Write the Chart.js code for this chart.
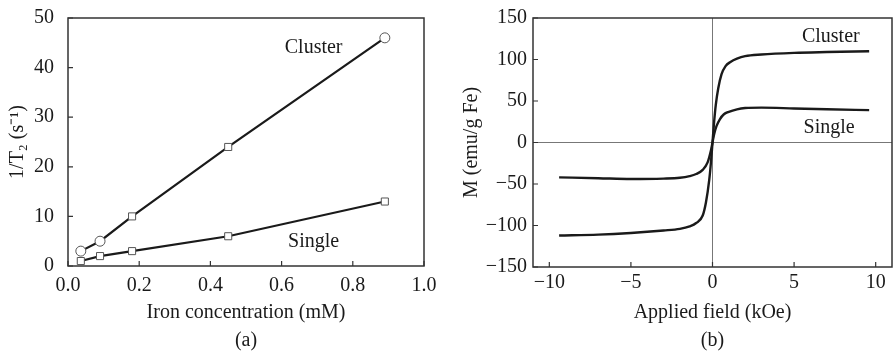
<!DOCTYPE html>
<html lang="en">
<head>
  <meta charset="UTF-8">
  <title>T2 relaxivity and magnetization</title>
  <script src="https://cdn.jsdelivr.net/npm/chart.js"></script>
  <style>
    body { margin: 0; background: #fff; }
    .panel { position: absolute; top: 0; }
    #left { left: 0; }
    #right { left: 446px; }
  </style>
</head>
<body>
  <canvas id="left" class="panel" width="446" height="358"></canvas>
  <canvas id="right" class="panel" width="447" height="358"></canvas>

  <script>
    // panel (a): relaxation rate vs iron concentration
    const concX = [0.036, 0.09, 0.18, 0.45, 0.89];
    const clusterRate = [3, 5, 10, 24, 46];
    const clusterStyle = ['circle', 'circle', 'rect', 'rect', 'circle'];
    const singleRate = [1, 2, 3, 6, 13];
    const concTicks = [0, 0.2, 0.4, 0.6, 0.8, 1.0];
    const rateTicks = [0, 10, 20, 30, 40, 50];

    // panel (b): magnetization curves
    const clusterField = [-9.4, -7, -5, -3, -2, -1.4, -1, -0.6, -0.4, -0.2, -0.1, 0, 0.1, 0.2, 0.35, 0.55, 0.8, 1.1, 1.5, 2, 3, 5, 7, 9.6];
    const clusterM = [-112, -111, -109, -106, -104, -101, -97, -88, -72, -45, -25, 0, 25, 45, 65, 82, 92, 97, 101, 104, 106, 108, 109, 110];
    const singleField = [-9.4, -7, -5, -3, -2, -1.4, -1, -0.6, -0.3, -0.1, 0, 0.1, 0.25, 0.45, 0.7, 1, 1.5, 2, 3, 5, 7, 9.6];
    const singleM = [-42, -43, -44, -43.5, -42.5, -40.5, -38, -33, -24, -10, 0, 10, 20, 28, 34, 37, 40, 41.5, 42, 41, 40, 39];
    const fieldTicks = [-10, -5, 0, 5, 10];
    const mTicks = [-150, -100, -50, 0, 50, 100, 150];

    const FONT = 'Liberation Serif';
    const INK = '#1a1a1a';

    const pts = (xs, ys) => xs.map((x, i) => ({ x: x, y: ys[i] }));
    const minus = v => String(v).replace('-', '\u2212');

    // box around the plot + ticks pointing inward, plus text labels at data coords
    const framePlugin = {
      id: 'frame',
      afterDraw(chart, args, opts) {
        const { ctx, chartArea: a, scales } = chart;
        ctx.save();
        ctx.strokeStyle = '#333';
        ctx.lineWidth = 1.5;
        ctx.strokeRect(a.left, a.top, a.right - a.left, a.bottom - a.top);
        ctx.lineWidth = 1.2;
        ctx.beginPath();
        scales.x.ticks.forEach(t => {
          const px = scales.x.getPixelForValue(t.value);
          ctx.moveTo(px, a.bottom);
          ctx.lineTo(px, a.bottom - 5);
        });
        scales.y.ticks.forEach(t => {
          const py = scales.y.getPixelForValue(t.value);
          ctx.moveTo(a.left, py);
          ctx.lineTo(a.left + 5, py);
        });
        ctx.stroke();
        ctx.fillStyle = INK;
        ctx.font = '20px "' + FONT + '"';
        ctx.textAlign = 'center';
        ctx.textBaseline = 'middle';
        (opts.labels || []).forEach(l => {
          ctx.fillText(l.text, scales.x.getPixelForValue(l.x), scales.y.getPixelForValue(l.y));
        });
        ctx.restore();
      }
    };

    function xTitle(text) {
      return { display: true, text: text, color: INK, font: { family: FONT, size: 20, lineHeight: 1.4 }, padding: { top: 3, bottom: 3 } };
    }

    function yTitle(text, pad) {
      return { display: true, text: text, color: INK, font: { family: FONT, size: 20 }, padding: { top: pad, bottom: 0 } };
    }

    function tickFont() {
      return { family: FONT, size: 20 };
    }

    new Chart(document.getElementById('left'), {
      type: 'line',
      data: {
        datasets: [
          {
            label: 'Cluster', data: pts(concX, clusterRate),
            borderColor: INK, borderWidth: 2.2, tension: 0,
            pointStyle: clusterStyle, pointRadius: 5,
            pointBackgroundColor: '#fff', pointBorderColor: '#555', pointBorderWidth: 1
          },
          {
            label: 'Single', data: pts(concX, singleRate),
            borderColor: INK, borderWidth: 2.2, tension: 0,
            pointStyle: 'rect', pointRadius: 5,
            pointBackgroundColor: '#fff', pointBorderColor: '#555', pointBorderWidth: 1
          }
        ]
      },
      options: {
        responsive: false,
        animation: false,
        layout: { padding: { top: 15, right: 22, left: 0, bottom: 0 } },
        plugins: {
          legend: { display: false },
          tooltip: { enabled: false },
          frame: { labels: [{ text: 'Cluster', x: 0.69, y: 44 }, { text: 'Single', x: 0.69, y: 4.8 }] }
        },
        scales: {
          x: {
            type: 'linear', min: 0, max: 1,
            afterBuildTicks: s => { s.ticks = concTicks.map(v => ({ value: v })); },
            afterFit: s => { s.height = 92; },
            grid: { display: false },
            border: { display: false },
            ticks: { color: INK, font: tickFont(), padding: 0, maxRotation: 0, callback: v => v.toFixed(1) },
            title: xTitle(['Iron concentration (mM)', '(a)'])
          },
          y: {
            min: 0, max: 50,
            afterBuildTicks: s => { s.ticks = rateTicks.map(v => ({ value: v })); },
            afterFit: s => { s.width = 68; },
            grid: { display: false },
            border: { display: false },
            ticks: { color: INK, font: tickFont(), padding: 6 },
            title: yTitle('1/T\u2082 (s\u207B\u00B9)', 6)
          }
        }
      },
      plugins: [framePlugin]
    });

    new Chart(document.getElementById('right'), {
      type: 'line',
      data: {
        datasets: [
          {
            label: 'Cluster', data: pts(clusterField, clusterM),
            borderColor: INK, borderWidth: 2.4, pointRadius: 0,
            cubicInterpolationMode: 'monotone'
          },
          {
            label: 'Single', data: pts(singleField, singleM),
            borderColor: INK, borderWidth: 2.4, pointRadius: 0,
            cubicInterpolationMode: 'monotone'
          }
        ]
      },
      options: {
        responsive: false,
        animation: false,
        layout: { padding: { top: 15, right: 1, left: 0, bottom: 0 } },
        plugins: {
          legend: { display: false },
          tooltip: { enabled: false },
          frame: { labels: [{ text: 'Cluster', x: 7.25, y: 128 }, { text: 'Single', x: 7.15, y: 18 }] }
        },
        scales: {
          x: {
            type: 'linear', min: -11, max: 11,
            afterBuildTicks: s => { s.ticks = fieldTicks.map(v => ({ value: v })); },
            afterFit: s => { s.height = 91; },
            grid: { drawTicks: false, color: c => c.tick && c.tick.value === 0 ? '#777' : 'rgba(0,0,0,0)' },
            border: { display: false },
            ticks: { color: INK, font: tickFont(), padding: 4, maxRotation: 0, callback: v => minus(v) },
            title: xTitle(['Applied field (kOe)', '(b)'])
          },
          y: {
            min: -150, max: 150,
            afterBuildTicks: s => { s.ticks = mTicks.map(v => ({ value: v })); },
            afterFit: s => { s.width = 87; },
            grid: { drawTicks: false, color: c => c.tick && c.tick.value === 0 ? '#777' : 'rgba(0,0,0,0)' },
            border: { display: false },
            ticks: { color: INK, font: tickFont(), padding: 6, callback: v => minus(v) },
            title: yTitle('M (emu/g Fe)', 14)
          }
        }
      },
      plugins: [framePlugin]
    });
  </script>
</body>
</html>
